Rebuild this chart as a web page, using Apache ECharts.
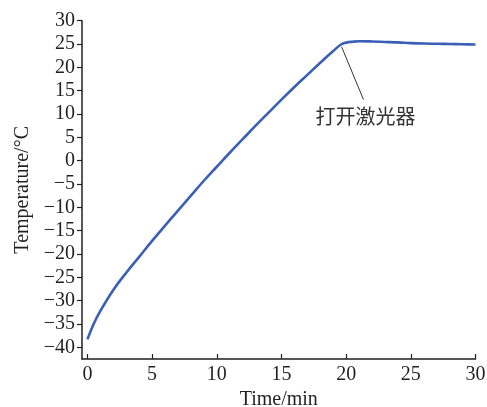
<!DOCTYPE html>
<html>
<head>
<meta charset="utf-8">
<script src="https://cdn.jsdelivr.net/npm/echarts@6/dist/echarts.min.js"></script>
<style>html,body{margin:0;padding:0;background:#fff}#c{width:487px;height:407px}</style>
</head>
<body>
<div id="c"></div>
<script>
var times = [0, 0.5, 1, 2, 3, 4, 5, 6, 7, 8, 9, 10, 11, 12, 13, 14, 15, 16, 17, 18, 19, 19.6, 20, 20.5, 21, 22, 23, 24, 25, 26, 27, 28, 29, 30];
var temps = [-38.3, -34.9, -32.2, -27.7, -24.0, -20.6, -17.2, -13.9, -10.7, -7.5, -4.3, -1.3, 1.7, 4.6, 7.5, 10.3, 13.1, 15.8, 18.4, 21.0, 23.5, 24.9, 25.3, 25.5, 25.6, 25.55, 25.45, 25.35, 25.2, 25.1, 25.05, 25.0, 24.95, 24.9];
var xTicks = [0, 5, 10, 15, 20, 25, 30];
var yTicks = [-40, -35, -30, -25, -20, -15, -10, -5, 0, 5, 10, 15, 20, 25, 30];
var annotText = '打开激光器';
var arrowFrom = [21.34, 13.1];
var arrowTo = [19.65, 24.4];
var labelAt = [21.5, 9.44];

var serif = '"Liberation Serif", "Times New Roman", serif';
var chart = echarts.init(document.getElementById('c'));
chart.setOption({
  animation: false,
  grid: { left: 82, right: 11.5, top: 20.7, bottom: 48, outerBoundsMode: 'none', containLabel: false },
  xAxis: {
    type: 'value', min: -0.42, max: 30,
    name: 'Time/min', nameLocation: 'middle', nameGap: 27,
    nameTextStyle: { fontFamily: serif, fontSize: 20, color: '#231f20' },
    axisLine: { show: true, onZero: false, lineStyle: { color: '#231f20', width: 1.5 } },
    axisTick: { show: true, inside: true, length: 5, customValues: xTicks, lineStyle: { color: '#231f20', width: 1.2 } },
    axisLabel: { customValues: xTicks, fontFamily: serif, fontSize: 20, color: '#231f20', margin: 6,
      formatter: function (v) { return String(v).replace('-', '\u2212'); } },
    splitLine: { show: false }
  },
  yAxis: {
    type: 'value', min: -42.5, max: 30,
    name: 'Temperature/°C', nameLocation: 'middle', nameGap: 49, nameRotate: 90,
    nameTextStyle: { fontFamily: serif, fontSize: 20, color: '#231f20' },
    axisLine: { show: true, onZero: false, lineStyle: { color: '#231f20', width: 1.5 } },
    axisTick: { show: true, inside: false, length: 5, customValues: yTicks, lineStyle: { color: '#231f20', width: 1.2 } },
    axisLabel: { customValues: yTicks, fontFamily: serif, fontSize: 20, color: '#231f20', margin: 7,
      formatter: function (v) { return String(v).replace('-', '\u2212'); } },
    splitLine: { show: false }
  },
  series: [{
    type: 'line',
    data: times.map(function (t, i) { return [t, temps[i]]; }),
    smooth: 0.4,
    showSymbol: false,
    lineStyle: { color: '#3a5fb4', width: 2.6 },
    markLine: {
      silent: true,
      z: 10,
      symbol: ['none', 'arrow'],
      symbolSize: [0, 9],
      label: { show: false },
      lineStyle: { color: '#333', width: 1, type: 'solid' },
      data: [[{ coord: arrowFrom }, { coord: arrowTo }]]
    },
    markPoint: {
      silent: true,
      symbol: 'circle', symbolSize: 0,
      label: { show: true, position: 'inside', formatter: annotText,
        fontFamily: '"Noto Sans CJK SC"', fontSize: 20, color: '#333' },
      data: [{ coord: labelAt }]
    }
  }]
});
</script>
</body>
</html>
